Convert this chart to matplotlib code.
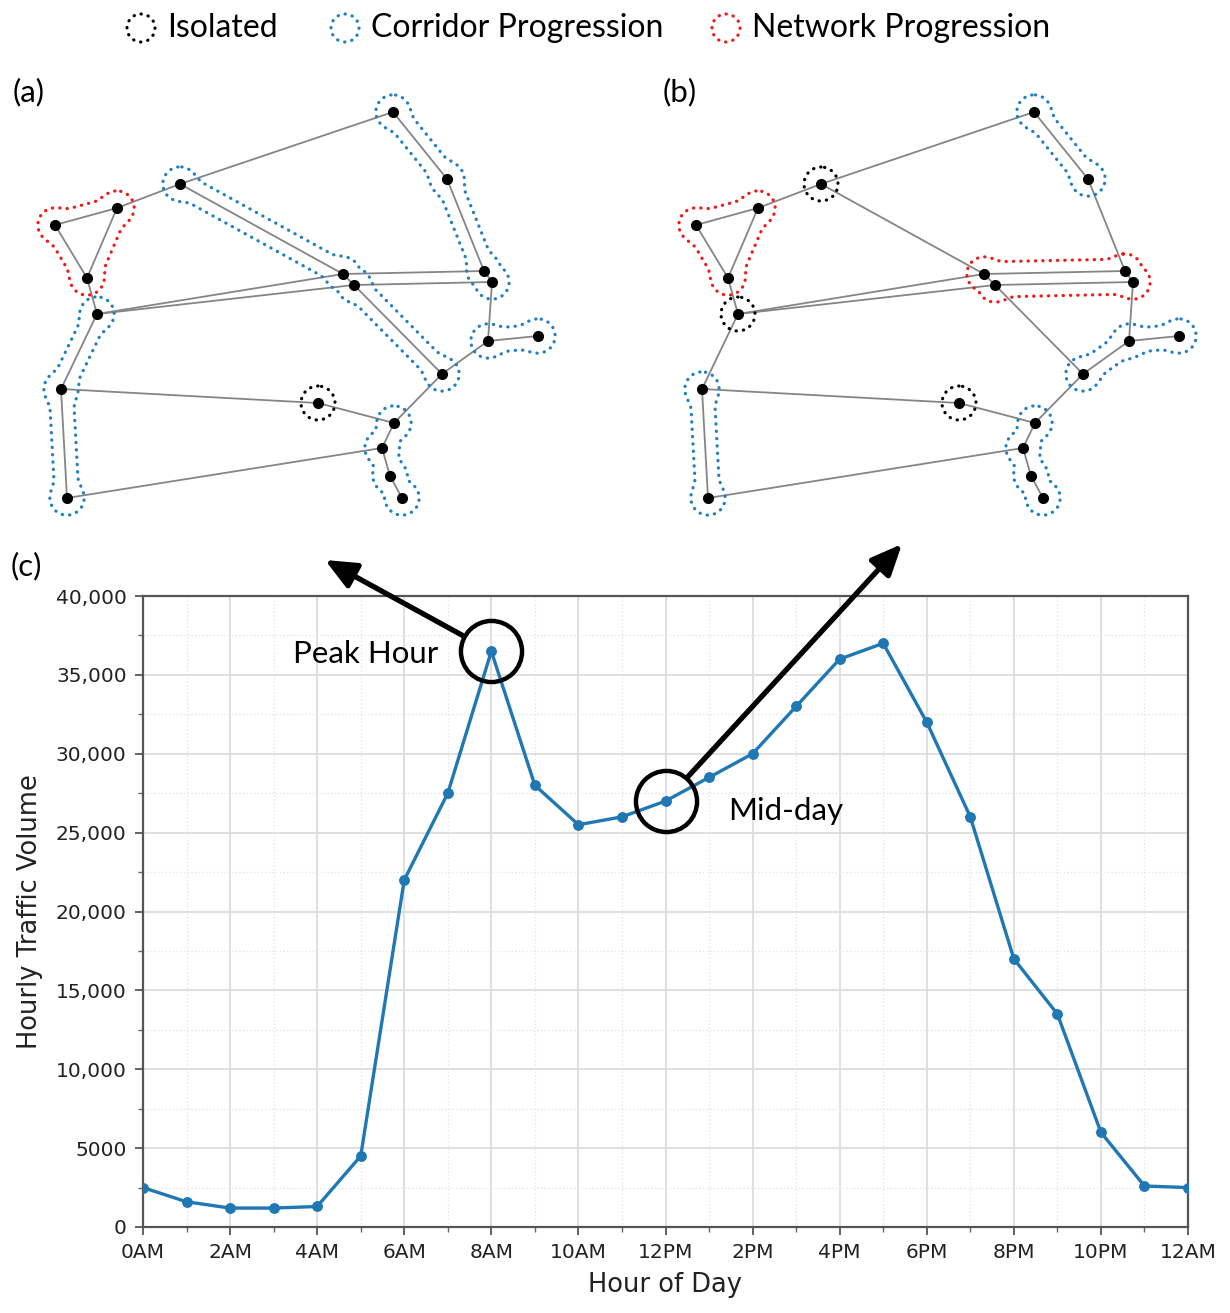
import numpy as np
import matplotlib
matplotlib.use("Agg")
import matplotlib.pyplot as plt
from matplotlib.path import Path
from matplotlib.patches import Circle

# ---------------------------------------------------------
# data
# ---------------------------------------------------------
hours = list(range(25))
volume = [2500, 1600, 1200, 1200, 1300, 4500, 22000, 27500, 36500, 28000,
          25500, 26000, 27000, 28500, 30000, 33000, 36000, 37000, 32000,
          26000, 17000, 13500, 6000, 2600, 2500]
xtick_pos = list(range(0, 25, 2))
xtick_lab = ["0AM", "2AM", "4AM", "6AM", "8AM", "10AM", "12PM",
             "2PM", "4PM", "6PM", "8PM", "10PM", "12AM"]
ytick_pos = [0, 5000, 10000, 15000, 20000, 25000, 30000, 35000, 40000]
ytick_lab = ["0", "5000", "10,000", "15,000", "20,000", "25,000",
             "30,000", "35,000", "40,000"]

peak_hour, peak_vol = 8, 36500
mid_hour, mid_vol = 12, 27000

# network layout (same node positions in both panels)
node_x = [393, 447, 180, 117, 55, 87, 97, 343, 354, 484, 492,
          488, 538, 442, 61, 318, 394, 382, 390, 402, 67]
node_y = [112, 179, 184, 208, 225, 278, 314, 274, 285, 271, 282,
          341, 336, 374, 389, 403, 423, 448, 476, 498, 498]
edges = [(1, 2), (2, 10), (10, 11), (11, 12), (12, 13), (12, 14), (14, 17),
         (9, 14), (3, 8), (8, 9), (3, 1), (3, 4), (4, 5), (4, 6), (5, 6),
         (6, 7), (7, 8), (7, 9), (8, 10), (9, 11), (7, 15), (15, 16),
         (15, 21), (16, 17), (17, 18), (18, 19), (19, 20), (18, 21)]

# groups: (kind, node path, closed)
groups_a = [("corridor", [1, 2, 10, 11], False),
            ("corridor", [3, 8, 9, 14], False),
            ("network", [4, 5, 6], True),
            ("corridor", [7, 15, 21], False),
            ("corridor", [13, 12], False),
            ("isolated", [16], False),
            ("corridor", [17, 18, 19, 20], False)]
groups_b = [("corridor", [1, 2], False),
            ("isolated", [3], False),
            ("network", [4, 5, 6], True),
            ("isolated", [7], False),
            ("network", [8, 10, 11, 9], True),
            ("corridor", [14, 12, 13], False),
            ("corridor", [15, 21], False),
            ("isolated", [16], False),
            ("corridor", [17, 18, 19, 20], False)]

kinds = ["isolated", "corridor", "network"]
kind_labels = ["Isolated", "Corridor Progression", "Network Progression"]
kind_colors = {"isolated": "black", "corridor": "#1f7fc4", "network": "#f01818"}

W, H = 1230, 1313
R_NODE = 17      # bulge radius around nodes
R_SEG = 12       # half width along the links
K_SMOOTH = 7
ANNOT_FONT = "Lato"
FS = 22.5
DOTS = (0, (0.1, 2.2))

fig = plt.figure(figsize=(W / 100, H / 100), dpi=100)


def seg_dist(px, py, a, b):
    dx, dy = b[0] - a[0], b[1] - a[1]
    L2 = dx * dx + dy * dy
    if L2 == 0:
        return np.hypot(px - a[0], py - a[1])
    t = np.clip(((px - a[0]) * dx + (py - a[1]) * dy) / L2, 0, 1)
    return np.hypot(px - (a[0] + t * dx), py - (a[1] + t * dy))


def smin(a, b, k):
    h = np.clip(0.5 + 0.5 * (b - a) / k, 0, 1)
    return b * (1 - h) + a * h - k * h * (1 - h)


def draw_network(ax, groups):
    pts = np.column_stack([node_x, node_y]).astype(float)
    for i, j in edges:
        ax.plot([pts[i - 1, 0], pts[j - 1, 0]], [pts[i - 1, 1], pts[j - 1, 1]],
                color="#858585", lw=1.3, zorder=2)
    ax.plot(pts[:, 0], pts[:, 1], "o", color="black", ms=7, zorder=4)

    gx = np.arange(0, 600, 1.0)
    gy = np.arange(60, 540, 1.0)
    X, Y = np.meshgrid(gx, gy)
    for kind, path, closed in groups:
        p = pts[[n - 1 for n in path]]
        d_node = np.min([np.hypot(X - q[0], Y - q[1]) for q in p], axis=0) - R_NODE
        if len(p) == 1:
            D = d_node
        else:
            segs = list(zip(p[:-1], p[1:]))
            if closed:
                segs.append((p[-1], p[0]))
            d_seg = np.min([seg_dist(X, Y, a, b) for a, b in segs], axis=0) - R_SEG
            D = smin(d_node, d_seg, K_SMOOTH)
            if closed:
                inside = Path(p).contains_points(
                    np.column_stack([X.ravel(), Y.ravel()])).reshape(X.shape)
                D[inside] = -50
        cs = ax.contour(X, Y, D, levels=[0])
        lines = cs.allsegs[0]
        cs.remove()
        for ln in lines:
            ax.plot(ln[:, 0], ln[:, 1], color=kind_colors[kind], lw=2.3,
                    linestyle=DOTS, dash_capstyle="round", zorder=3)


# panel (a)
ax_a = fig.add_axes([0, 1 - 530 / H, 600 / W, 470 / H])
ax_a.set_xlim(0, 600)
ax_a.set_ylim(530, 60)
ax_a.axis("off")
draw_network(ax_a, groups_a)

# panel (b)
ax_b = fig.add_axes([641 / W, 1 - 530 / H, 589 / W, 470 / H])
ax_b.set_xlim(0, 589)
ax_b.set_ylim(530, 60)
ax_b.axis("off")
draw_network(ax_b, groups_b)

# ---------------------------------------------------------
# panel (c): hourly traffic
# ---------------------------------------------------------
ax = fig.add_axes([143 / W, (H - 1227) / H, (1188 - 143) / W, (1227 - 596) / H])
ax.plot(hours, volume, "-o", color="#1f77b4", lw=2.4, ms=6.8, zorder=3)
ax.set_xlim(0, 24)
ax.set_ylim(0, 40000)
ax.set_xticks(xtick_pos)
ax.set_xticklabels(xtick_lab)
ax.set_xticks(range(25), minor=True)
ax.set_yticks(ytick_pos)
ax.set_yticklabels(ytick_lab)
ax.set_yticks(range(0, 40001, 2500), minor=True)
ax.tick_params(which="major", labelsize=14.5, length=5.8, width=1.3, pad=6,
               color="#555555", labelcolor="#222222")
ax.tick_params(which="minor", length=3.6, width=1.0, color="#666666")
ax.grid(which="major", color="#dddddd", lw=1.3)
ax.grid(which="minor", color="#e6e6e6", lw=1.0, linestyle=":")
ax.set_axisbelow(True)
for sp in ax.spines.values():
    sp.set_color("#555555")
    sp.set_linewidth(1.6)
ax.set_xlabel("Hour of Day", fontsize=18.5, color="#222222", labelpad=7)
ax.set_ylabel("Hourly Traffic Volume", fontsize=18.5, color="#222222",
              labelpad=9)

# annotation circles
for hx, vy in [(peak_hour, peak_vol), (mid_hour, mid_vol)]:
    ax.plot(hx, vy, "o", ms=44, mfc="none", mec="black", mew=3.2,
            clip_on=False, zorder=5)

ax.annotate("Peak Hour", xy=(peak_hour, peak_vol), xytext=(-38, -2),
            textcoords="offset points", ha="right", va="center",
            fontsize=FS, family=ANNOT_FONT)
ax.annotate("Mid-day", xy=(mid_hour, mid_vol), xytext=(45, -7),
            textcoords="offset points", ha="left", va="center",
            fontsize=FS, family=ANNOT_FONT)

arrow_kw = dict(arrowstyle="-|>,head_length=0.75,head_width=0.33",
                color="black", lw=3.8, mutation_scale=25, shrinkA=23, shrinkB=0)
ax.annotate("", xy=(325, H - 560), xycoords="figure pixels",
            xytext=(peak_hour, peak_vol), textcoords="data",
            arrowprops=arrow_kw, zorder=6)
ax.annotate("", xy=(902, H - 544), xycoords="figure pixels",
            xytext=(mid_hour, mid_vol), textcoords="data",
            arrowprops=arrow_kw, zorder=6)

# ---------------------------------------------------------
# legend + panel labels (figure pixel overlay)
# ---------------------------------------------------------
ov = fig.add_axes([0, 0, 1, 1])
ov.set_xlim(0, W)
ov.set_ylim(H, 0)
ov.axis("off")
leg_x = [141, 345, 726]
for k, lab, cx in zip(kinds, kind_labels, leg_x):
    c = Circle((cx, 28), 14, fill=False, edgecolor=kind_colors[k], lw=2.3,
               linestyle=DOTS)
    c.set_capstyle("round")
    ov.add_patch(c)
    ov.text(cx + 26, 28, lab, ha="left", va="center", fontsize=23,
            family=ANNOT_FONT)

for lab, lx, ly in [("(a)", 13, 92), ("(b)", 663, 92), ("(c)", 11, 566)]:
    ov.text(lx, ly, lab, ha="left", va="center", fontsize=FS, family=ANNOT_FONT)

fig.savefig("out.png", dpi=100)
